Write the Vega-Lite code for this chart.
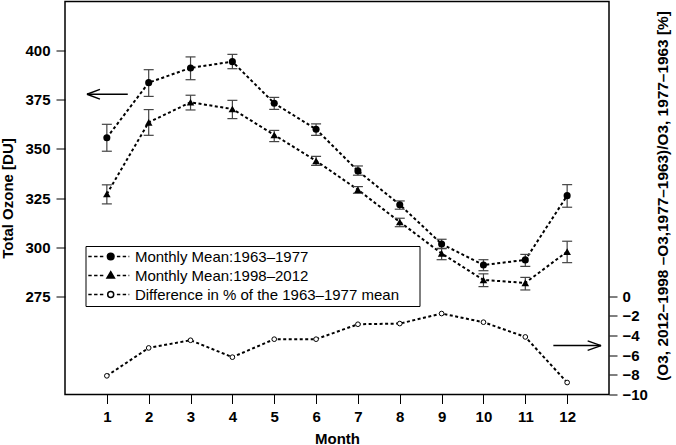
{
  "$schema": "https://vega.github.io/schema/vega-lite/v6.json",
  "width": 544,
  "height": 393,
  "autosize": "none",
  "padding": {"left": 65, "top": 1.5, "right": 67, "bottom": 50.5},
  "background": "white",
  "datasets": {
    "means": [
      {"month": 1, "series": "1963–1977", "mean": 355.7, "lo": 348.8, "hi": 362.5},
      {"month": 2, "series": "1963–1977", "mean": 383.7, "lo": 376.7, "hi": 390.3},
      {"month": 3, "series": "1963–1977", "mean": 391.2, "lo": 385.2, "hi": 396.8},
      {"month": 4, "series": "1963–1977", "mean": 394.4, "lo": 390.8, "hi": 398.1},
      {"month": 5, "series": "1963–1977", "mean": 373.2, "lo": 370.1, "hi": 376.2},
      {"month": 6, "series": "1963–1977", "mean": 360.0, "lo": 356.9, "hi": 362.7},
      {"month": 7, "series": "1963–1977", "mean": 338.8, "lo": 336.6, "hi": 341.3},
      {"month": 8, "series": "1963–1977", "mean": 321.6, "lo": 319.3, "hi": 323.5},
      {"month": 9, "series": "1963–1977", "mean": 301.6, "lo": 299.2, "hi": 304.0},
      {"month": 10, "series": "1963–1977", "mean": 290.9, "lo": 288.0, "hi": 293.6},
      {"month": 11, "series": "1963–1977", "mean": 293.5, "lo": 290.2, "hi": 296.3},
      {"month": 12, "series": "1963–1977", "mean": 326.2, "lo": 320.3, "hi": 331.8},
      {"month": 1, "series": "1998–2012", "mean": 327.0, "lo": 322.0, "hi": 331.7},
      {"month": 2, "series": "1998–2012", "mean": 363.5, "lo": 356.9, "hi": 370.0},
      {"month": 3, "series": "1998–2012", "mean": 373.7, "lo": 369.8, "hi": 377.3},
      {"month": 4, "series": "1998–2012", "mean": 370.3, "lo": 365.4, "hi": 374.7},
      {"month": 5, "series": "1998–2012", "mean": 357.1, "lo": 353.7, "hi": 359.4},
      {"month": 6, "series": "1998–2012", "mean": 343.9, "lo": 341.6, "hi": 346.2},
      {"month": 7, "series": "1998–2012", "mean": 329.2, "lo": 327.4, "hi": 330.8},
      {"month": 8, "series": "1998–2012", "mean": 312.8, "lo": 310.4, "hi": 314.7},
      {"month": 9, "series": "1998–2012", "mean": 296.8, "lo": 293.6, "hi": 299.4},
      {"month": 10, "series": "1998–2012", "mean": 283.3, "lo": 279.9, "hi": 286.4},
      {"month": 11, "series": "1998–2012", "mean": 281.8, "lo": 278.2, "hi": 284.6},
      {"month": 12, "series": "1998–2012", "mean": 297.7, "lo": 292.1, "hi": 303.0}
    ],
    "diff": [
      {"month": 1, "diff": -8.1},
      {"month": 2, "diff": -5.26},
      {"month": 3, "diff": -4.48},
      {"month": 4, "diff": -6.2},
      {"month": 5, "diff": -4.37},
      {"month": 6, "diff": -4.37},
      {"month": 7, "diff": -2.85},
      {"month": 8, "diff": -2.78},
      {"month": 9, "diff": -1.76},
      {"month": 10, "diff": -2.64},
      {"month": 11, "diff": -4.14},
      {"month": 12, "diff": -8.78}
    ],
    "arrowLeft": [
      {"x": 0.525, "y": 377.8, "x2": 1.5, "y2": 377.8},
      {"x": 0.525, "y": 377.8, "x2": 0.835, "y2": 380.3},
      {"x": 0.525, "y": 377.8, "x2": 0.835, "y2": 375.3}
    ],
    "arrowRight": [
      {"x": 11.67, "y": -5.02, "x2": 12.81, "y2": -5.02},
      {"x": 12.81, "y": -5.02, "x2": 12.49, "y2": -4.54},
      {"x": 12.81, "y": -5.02, "x2": 12.49, "y2": -5.5}
    ]
  },
  "layer": [
    {
      "data": {"name": "means"},
      "layer": [
        {
          "mark": {"type": "line", "color": "black", "strokeWidth": 2, "strokeDash": [3, 2.5]},
          "encoding": {
            "x": {
              "field": "month", "type": "quantitative",
              "scale": {"domain": [0, 13], "nice": false},
              "axis": {
                "title": "Month", "values": [1, 2, 3, 4, 5, 6, 7, 8, 9, 10, 11, 12],
                "tickSize": 9, "labelPadding": 6, "titleY": 43.5, "titleBaseline": "middle"
              }
            },
            "y": {
              "field": "mean", "type": "quantitative",
              "scale": {"domain": [225, 425], "nice": false, "zero": false},
              "axis": {
                "title": "Total Ozone [DU]", "orient": "left",
                "values": [275, 300, 325, 350, 375, 400],
                "tickSize": 9, "labelPadding": 6,
                "titleX": -57.5, "titleY": 196.5, "titleAngle": 270,
                "titleAlign": "center", "titleBaseline": "middle"
              }
            },
            "detail": {"field": "series"}
          }
        },
        {
          "mark": {"type": "rule", "color": "#444", "strokeWidth": 1.2},
          "encoding": {
            "x": {"field": "month", "type": "quantitative"},
            "y": {"field": "lo", "type": "quantitative"},
            "y2": {"field": "hi"}
          }
        },
        {
          "mark": {"type": "tick", "orient": "horizontal", "size": 10, "thickness": 1.2, "color": "#444", "opacity": 1},
          "encoding": {
            "x": {"field": "month", "type": "quantitative"},
            "y": {"field": "lo", "type": "quantitative"}
          }
        },
        {
          "mark": {"type": "tick", "orient": "horizontal", "size": 10, "thickness": 1.2, "color": "#444", "opacity": 1},
          "encoding": {
            "x": {"field": "month", "type": "quantitative"},
            "y": {"field": "hi", "type": "quantitative"}
          }
        },
        {
          "transform": [{"filter": "datum.series == '1963–1977'"}],
          "mark": {"type": "point", "shape": "circle", "filled": true, "color": "black", "size": 50, "opacity": 1},
          "encoding": {
            "x": {"field": "month", "type": "quantitative"},
            "y": {"field": "mean", "type": "quantitative"}
          }
        },
        {
          "transform": [{"filter": "datum.series == '1998–2012'"}],
          "mark": {"type": "point", "shape": "triangle-up", "filled": true, "color": "black", "size": 58, "opacity": 1},
          "encoding": {
            "x": {"field": "month", "type": "quantitative"},
            "y": {"field": "mean", "type": "quantitative"}
          }
        },
        {
          "data": {"name": "arrowLeft"},
          "mark": {"type": "rule", "color": "black", "strokeWidth": 1.4},
          "encoding": {
            "x": {"field": "x", "type": "quantitative"},
            "y": {"field": "y", "type": "quantitative"},
            "x2": {"field": "x2"},
            "y2": {"field": "y2"}
          }
        }
      ]
    },
    {
      "data": {"name": "diff"},
      "layer": [
        {
          "mark": {"type": "line", "color": "black", "strokeWidth": 2, "strokeDash": [3, 2.5]},
          "encoding": {
            "x": {"field": "month", "type": "quantitative"},
            "y": {
              "field": "diff", "type": "quantitative",
              "scale": {"domain": [-10, 30], "nice": false, "zero": false},
              "axis": {
                "title": "(O3, 2012–1998 –O3,1977–1963)/O3, 1977–1963 [%]",
                "orient": "right",
                "values": [-10, -8, -6, -4, -2, 0],
                "tickSize": 8, "labelPadding": 5,
                "titleX": 53, "titleY": 194, "titleAngle": 270,
                "titleAlign": "center", "titleBaseline": "middle", "titleFontSize": 15.4
              }
            }
          }
        },
        {
          "mark": {"type": "point", "shape": "circle", "filled": true, "fill": "white", "stroke": "black", "strokeWidth": 1, "size": 22, "opacity": 1},
          "encoding": {
            "x": {"field": "month", "type": "quantitative"},
            "y": {"field": "diff", "type": "quantitative"}
          }
        },
        {
          "data": {"name": "arrowRight"},
          "mark": {"type": "rule", "color": "black", "strokeWidth": 1.4},
          "encoding": {
            "x": {"field": "x", "type": "quantitative"},
            "y": {"field": "y", "type": "quantitative"},
            "x2": {"field": "x2"},
            "y2": {"field": "y2"}
          }
        }
      ]
    },
    {
      "data": {"name": "means"},
      "transform": [{"filter": "false"}],
      "mark": {"type": "point", "filled": true, "stroke": "black", "strokeWidth": 1.5, "opacity": 1},
      "encoding": {
        "shape": {
          "field": "series", "type": "nominal",
          "scale": {
            "domain": ["Monthly Mean:1963–1977", "Monthly Mean:1998–2012", "Difference in % of the 1963–1977 mean"],
            "range": [
              "M-22.4,0H-19M-16.6,0H-13.2M-10.8,0H-7.4M-3.3,0A3.3,3.3 0 1,0 3.3,0A3.3,3.3 0 1,0 -3.3,0ZM6.2,0H9.6M12,0H15.4M17.8,0H18.6M302,0",
              "M-22.4,0H-19M-16.6,0H-13.2M-10.8,0H-7.4M0,-3.8L3.7,2.4L-3.7,2.4ZM6.2,0H9.6M12,0H15.4M17.8,0H18.6M302,0",
              "M-22.4,0H-19M-16.6,0H-13.2M-10.8,0H-7.4M-3,0A3,3 0 1,0 3,0A3,3 0 1,0 -3,0ZM6.2,0H9.6M12,0H15.4M17.8,0H18.6M302,0"
            ]
          },
          "legend": {
            "title": null, "orient": "none", "legendX": 20.5, "legendY": 244.5,
            "padding": 3, "strokeColor": "black", "fillColor": "white",
            "symbolSize": 4, "symbolOffset": 14.7, "labelOffset": 16.7,
            "rowPadding": 3, "labelFont": "Liberation Sans", "labelFontSize": 15,
            "labelColor": "black", "labelLimit": 400,
            "encode": {"symbols": {"update": {"stroke": {"value": "black"}, "strokeWidth": {"value": 1.5}}}}
          }
        },
        "fill": {
          "field": "series", "type": "nominal",
          "scale": {
            "domain": ["Monthly Mean:1963–1977", "Monthly Mean:1998–2012", "Difference in % of the 1963–1977 mean"],
            "range": ["black", "black", "white"]
          },
          "legend": {
            "title": null, "orient": "none", "legendX": 20.5, "legendY": 244.5,
            "padding": 3, "strokeColor": "black", "fillColor": "white",
            "symbolSize": 4, "symbolOffset": 14.7, "labelOffset": 16.7,
            "rowPadding": 3, "labelFont": "Liberation Sans", "labelFontSize": 15,
            "labelColor": "black", "labelLimit": 400,
            "encode": {"symbols": {"update": {"stroke": {"value": "black"}, "strokeWidth": {"value": 1.5}}}}
          }
        }
      }
    }
  ],
  "resolve": {"scale": {"y": "independent"}},
  "config": {
    "view": {"stroke": "black", "strokeWidth": 1.5},
    "axis": {
      "grid": false, "domain": false,
      "tickColor": "black", "tickWidth": 1,
      "labelFont": "Liberation Sans", "labelFontSize": 15, "labelFontWeight": "bold", "labelColor": "black",
      "titleFont": "Liberation Sans", "titleFontSize": 15, "titleFontWeight": "bold", "titleColor": "black"
    }
  }
}
